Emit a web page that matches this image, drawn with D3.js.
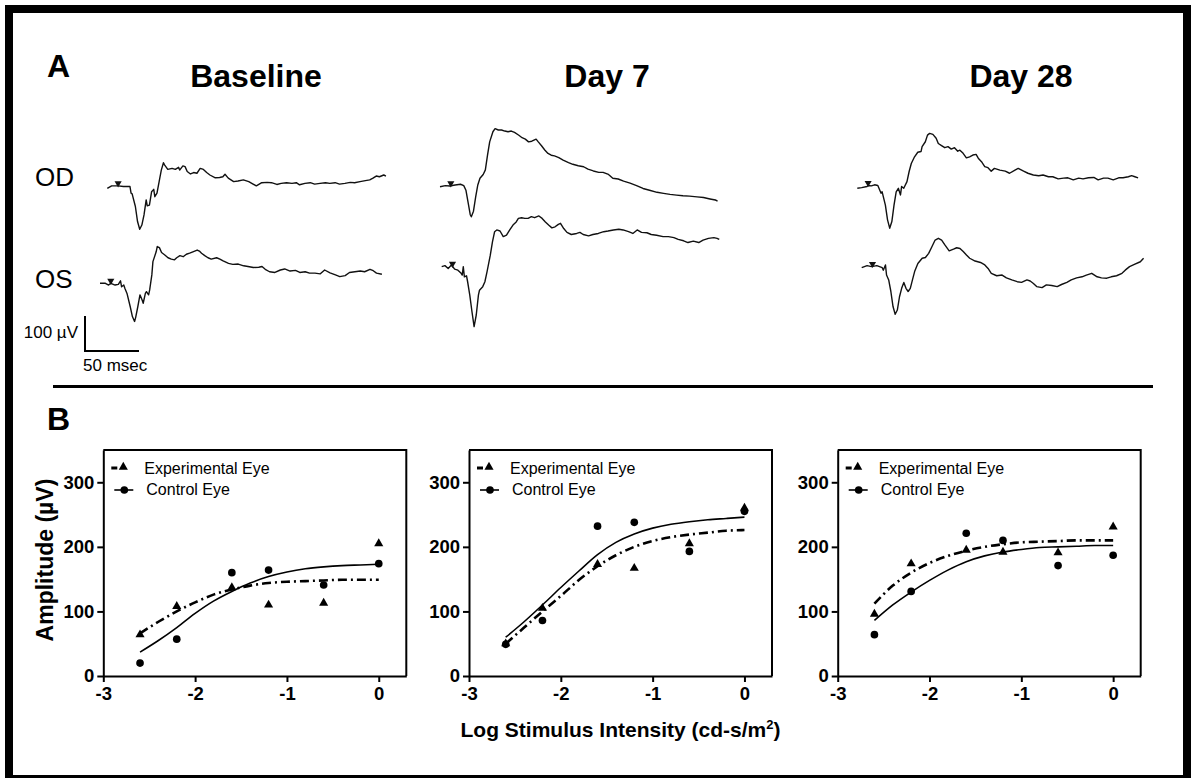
<!DOCTYPE html>
<html>
<head>
<meta charset="utf-8">
<script src="https://cdn.jsdelivr.net/npm/d3@7"></script>
<style>
  body { margin: 0; background: #fff; }
  svg { display: block; font-family: "Liberation Sans", Arial, sans-serif; }
</style>
</head>
<body>
<div id="container"></div>
<script>
const width = 1191, height = 778;

/** -------------- DATA -------------- */

const days = ["Baseline", "Day 7", "Day 28"];
const eyes = ["OD", "OS"];

// ERG traces as [msec, µV], relative to the pre-stimulus level
const baselineOD = [[0,0],[4,7],[10,7],[15,5],[21,5],[22,-14],[23,-16],[26,-52],[28,-95],[30,-117],[32,-105],[34,-76],[36,-33],[37,-50],[39,-48],[41,-10],[43,-3],[44,-24],[46,-14],[48,19],[50,52],[52,73],[53,67],[56,54],[60,57],[63,54],[66,60],[67,52],[70,64],[72,62],[74,48],[77,41],[80,45],[83,43],[86,57],[89,54],[92,45],[95,38],[100,30],[104,31],[107,33],[109,40],[112,29],[117,19],[121,21],[126,24],[131,19],[135,12],[138,7],[143,16],[148,17],[152,16],[157,11],[161,14],[166,16],[171,14],[175,16],[178,10],[183,14],[188,16],[192,12],[197,14],[202,16],[206,14],[211,16],[215,12],[220,14],[225,17],[229,16],[234,19],[239,22],[243,24],[246,29],[249,35],[252,33],[256,38],[258,35]];
const baselineOS = [[0,0],[5,0],[8,-5],[10,0],[14,-5],[17,-3],[19,7],[20,-10],[22,-5],[23,-14],[25,-29],[28,-67],[30,-95],[32,-109],[33,-98],[35,-67],[37,-33],[39,-48],[40,-57],[42,-29],[43,-24],[45,-33],[46,-19],[48,24],[49,62],[52,90],[53,105],[55,102],[57,88],[60,81],[63,73],[66,69],[69,67],[71,73],[74,79],[77,76],[80,83],[83,86],[86,90],[90,95],[92,92],[94,86],[97,79],[100,73],[103,69],[108,73],[111,69],[114,64],[119,57],[123,54],[128,55],[133,50],[137,48],[142,45],[147,46],[150,48],[153,40],[157,33],[162,31],[167,38],[171,41],[176,35],[181,37],[185,31],[190,33],[194,29],[199,29],[204,27],[208,38],[213,30],[218,24],[222,19],[227,22],[231,31],[236,33],[241,35],[245,33],[250,40],[253,36],[256,29],[261,26]];
const day7OD = [[0,0],[5,3],[9,2],[14,5],[19,7],[22,3],[24,-10],[26,-45],[28,-80],[29,-86],[31,-70],[33,-30],[35,5],[37,24],[40,35],[42,48],[44,90],[46,128],[49,157],[51,166],[54,162],[57,162],[60,159],[63,157],[66,159],[69,155],[73,147],[76,140],[79,136],[82,128],[85,130],[89,136],[91,128],[94,117],[97,105],[100,95],[103,90],[106,88],[110,83],[114,76],[119,69],[123,64],[128,60],[133,57],[137,50],[142,45],[147,41],[151,41],[156,35],[160,24],[165,22],[170,16],[176,10],[182,3],[188,-5],[194,-10],[201,-16],[207,-19],[213,-22],[219,-24],[225,-26],[231,-27],[238,-29],[244,-31],[250,-35],[255,-38],[257,-41]];
const day7OS = [[0,0],[3,3],[6,-5],[9,5],[12,-7],[15,-10],[18,-19],[19,-24],[20,0],[21,-29],[23,-26],[24,-43],[26,-81],[28,-128],[30,-171],[32,-138],[34,-81],[35,-67],[38,-57],[40,-43],[42,-14],[45,33],[47,71],[49,100],[51,105],[54,102],[57,86],[60,90],[63,105],[66,119],[69,128],[71,138],[74,140],[77,138],[80,138],[83,143],[86,140],[90,145],[93,138],[96,128],[99,119],[102,111],[105,114],[108,121],[110,124],[113,109],[116,98],[120,92],[125,95],[128,98],[131,92],[136,88],[140,92],[145,95],[150,100],[154,102],[159,105],[164,107],[168,105],[173,100],[177,95],[181,105],[185,98],[190,97],[194,92],[199,90],[205,86],[210,86],[215,83],[219,78],[224,74],[228,69],[233,73],[238,69],[242,76],[247,81],[252,83],[255,81],[257,78]];
const day28OD = [[0,0],[4,2],[9,5],[10,8],[13,7],[16,10],[19,8],[22,-14],[23,-10],[26,-48],[28,-90],[30,-114],[32,-95],[34,-48],[36,-10],[38,0],[40,-19],[41,5],[43,0],[46,19],[48,48],[50,71],[53,90],[56,103],[59,105],[60,119],[63,133],[65,152],[67,157],[70,154],[73,143],[75,128],[78,122],[81,116],[84,119],[87,112],[90,116],[93,106],[95,109],[98,100],[101,87],[104,90],[107,95],[110,97],[112,86],[115,76],[118,62],[121,59],[124,49],[127,57],[132,52],[137,49],[141,43],[146,52],[149,57],[154,49],[158,43],[163,38],[168,36],[172,38],[177,33],[181,33],[186,27],[191,29],[195,30],[200,24],[205,29],[209,27],[214,30],[219,31],[223,24],[228,29],[232,29],[237,24],[242,30],[246,30],[251,33],[254,36],[257,33],[260,30]];
const day28OS = [[0,0],[5,6],[9,3],[14,6],[19,0],[20,-7],[22,8],[23,-21],[25,-35],[27,-68],[29,-111],[31,-133],[33,-121],[35,-83],[37,-59],[39,-42],[41,-59],[43,-68],[45,-59],[47,-35],[49,-11],[52,12],[56,27],[59,29],[62,41],[65,60],[68,79],[71,84],[74,79],[77,65],[81,48],[85,53],[88,57],[91,55],[94,46],[97,36],[100,27],[105,19],[110,15],[114,8],[117,-2],[120,-16],[125,-23],[130,-21],[134,-29],[139,-35],[144,-40],[148,-42],[153,-35],[156,-38],[159,-45],[162,-54],[167,-57],[171,-49],[176,-51],[181,-54],[185,-48],[190,-42],[194,-35],[199,-29],[204,-26],[208,-21],[213,-16],[218,-26],[222,-29],[227,-30],[231,-26],[236,-23],[241,-16],[244,-7],[248,3],[253,10],[258,17],[261,27]];
const traces = [[baselineOD, baselineOS], [day7OD, day7OS], [day28OD, day28OS]];
const stimulusMs = 10;

// intensity-response, amplitude in µV
const intensities = [-2.6, -2.2, -1.6, -1.2, -0.6, 0];
const expAmp = [
  [64, 108, 137, 110, 113, 205],
  [50, 105, 173, 167, 205, 260],
  [96, 174, 195, 192, 191, 231]
];
const ctrlAmp = [
  [20, 57, 160, 164, 141, 174],
  [49, 86, 232, 238, 193, 255],
  [64, 131, 221, 210, 171, 187]
];
const fitX = [-2.6, -2.4, -2.2, -2.0, -1.8, -1.6, -1.4, -1.2, -1.0, -0.8, -0.6, -0.4, -0.2, 0];
const expFit = [
  [66, 84, 100, 114, 126, 134, 140, 144, 146, 147, 148, 149, 149, 149],
  [50, 75, 100, 124, 149, 170, 187, 200, 209, 215, 219, 222, 225, 226],
  [112, 140, 160, 175, 186, 194, 200, 204, 207, 208, 209, 210, 210, 210]
];
const ctrlFit = [
  [37, 55, 75, 97, 116, 131, 144, 154, 161, 166, 169, 171, 172, 173],
  [60, 84, 110, 137, 163, 188, 207, 220, 229, 235, 239, 242, 244, 246],
  [86, 110, 130, 148, 164, 177, 186, 192, 196, 199, 200, 201, 202, 202]
];
const xTicks = [-3, -2, -1, 0];
const yTicks = [0, 100, 200, 300];
const legendLabels = ["Experimental Eye", "Control Eye"];

/** -------------- SVG -------------- */

const svg = d3.select("#container")
  .append("svg")
  .attr("width", width)
  .attr("height", height);

svg.append("rect")
    .attr("width", width).attr("height", height).attr("fill", "#fff");

// outer frame and divider
svg.append("rect")
    .attr("x", 9).attr("y", 9)
    .attr("width", 1178).attr("height", 770)
    .attr("fill", "none").attr("stroke", "#000").attr("stroke-width", 8);

svg.append("line")
    .attr("x1", 53).attr("x2", 1153)
    .attr("y1", 386.5).attr("y2", 386.5)
    .attr("stroke", "#000").attr("stroke-width", 3);

svg.append("text").attr("x", 47).attr("y", 77)
    .attr("font-size", 32).attr("font-weight", "bold").text("A");
svg.append("text").attr("x", 47).attr("y", 430)
    .attr("font-size", 32).attr("font-weight", "bold").text("B");

/** -------------- A: TRACES -------------- */

const t = d3.scaleLinear([0, 50], [0, 54]);
const v = d3.scaleLinear([0, 100], [0, -35]);
const line = d3.line(d => t(d[0]), d => v(d[1]));

const titleX = [256, 607, 1021];
const origins = [
  [[107.3, 188.3], [100, 283.3]],
  [[440, 186.7], [441.7, 266.7]],
  [[857.3, 188.3], [861.7, 267.7]]
];

days.forEach((day, i) => {
  svg.append("text")
      .attr("x", titleX[i]).attr("y", 87)
      .attr("text-anchor", "middle")
      .attr("font-size", 32).attr("font-weight", "bold")
      .text(day);

  traces[i].forEach((tr, j) => {
    const g = svg.append("g")
        .attr("transform", `translate(${origins[i][j]})`);
    g.append("path")
        .attr("d", line(tr))
        .attr("fill", "none")
        .attr("stroke", "#111")
        .attr("stroke-width", 1.4)
        .attr("stroke-linejoin", "round");

    // stimulus marker sits on the trace
    const k = d3.bisector(d => d[0]).left(tr, stimulusMs);
    const a = tr[Math.max(0, k - 1)], b = tr[k];
    const val = b[0] === a[0] ? b[1] : a[1] + (b[1] - a[1]) * (stimulusMs - a[0]) / (b[0] - a[0]);
    g.append("path")
        .attr("d", d3.symbol(d3.symbolTriangle, 22)())
        .attr("transform", `translate(${t(stimulusMs)},${v(val) - 2.5}) rotate(180)`)
        .attr("fill", "#111");
  });
});

eyes.forEach((eye, j) => {
  svg.append("text")
      .attr("x", 35).attr("y", [186, 288][j])
      .attr("font-size", 26)
      .text(eye);
});

// scale bar
const bar = svg.append("g").attr("transform", "translate(85,351)");
bar.append("path")
    .attr("d", `M0,${v(100)}V0H${t(50)}`)
    .attr("fill", "none").attr("stroke", "#000").attr("stroke-width", 2);
bar.append("text")
    .attr("x", -7).attr("y", -13)
    .attr("text-anchor", "end")
    .attr("font-size", 17)
    .text("100 µV");
bar.append("text")
    .attr("x", -2).attr("y", 20)
    .attr("font-size", 17)
    .text("50 msec");

/** -------------- B: INTENSITY-RESPONSE -------------- */

const pw = 303, ph = 226, panelTop = 450;
const lefts = [103.3, 469, 837.7];
const x = d3.scaleLinear([-3, 0.3], [0, pw]);
const y = d3.scaleLinear([0, 350], [ph, 0]);
const fitLine = d3.line().curve(d3.curveMonotoneX)
  .x(d => x(d[0])).y(d => y(d[1]));
const dashDot = "9,4,2,4";
const tri = d3.symbol(d3.symbolTriangle, 36)();
const dot = d3.symbol(d3.symbolCircle, 46)();

lefts.forEach((left, i) => {
  const g = svg.append("g").attr("transform", `translate(${left},${panelTop})`);

  g.append("path")
      .attr("d", `M0,0H${pw}V${ph}`)
      .attr("fill", "none").attr("stroke", "#000").attr("stroke-width", 2);

  const ax = g.append("g")
      .attr("transform", `translate(0,${ph})`)
      .call(d3.axisBottom(x).tickValues(xTicks).tickFormat(d3.format("d"))
        .tickSize(6).tickSizeOuter(0).tickPadding(5));
  const ay = g.append("g")
      .call(d3.axisLeft(y).tickValues(yTicks).tickSize(6).tickSizeOuter(0).tickPadding(3));

  [ax, ay].forEach(a => {
    a.select(".domain").attr("stroke-width", 2);
    a.selectAll(".tick line").attr("stroke-width", 2);
    a.selectAll(".tick text")
        .attr("font-family", "Liberation Sans, Arial, sans-serif")
        .attr("font-size", 18.5).attr("font-weight", "bold")
        .attr("fill", "#000");
  });
  ax.selectAll(".tick text").text(d => d < 0 ? "-" + Math.abs(d) : d);

  // fitted curves
  g.append("path")
      .attr("d", fitLine(fitX.map((d, k) => [d, ctrlFit[i][k]])))
      .attr("fill", "none").attr("stroke", "#000").attr("stroke-width", 1.6);
  g.append("path")
      .attr("d", fitLine(fitX.map((d, k) => [d, expFit[i][k]])))
      .attr("fill", "none").attr("stroke", "#000").attr("stroke-width", 2.6)
      .attr("stroke-dasharray", dashDot);

  g.selectAll(".ctrl")
    .data(intensities.map((d, k) => [d, ctrlAmp[i][k]]))
    .join("path")
      .attr("class", "ctrl")
      .attr("d", dot)
      .attr("transform", d => `translate(${x(d[0])},${y(d[1])})`);
  g.selectAll(".exp")
    .data(intensities.map((d, k) => [d, expAmp[i][k]]))
    .join("path")
      .attr("class", "exp")
      .attr("d", tri)
      .attr("transform", d => `translate(${x(d[0])},${y(d[1])})`);

  // legend
  const lg = g.append("g");
  lg.append("line")
      .attr("x1", 8).attr("x2", 14).attr("y1", 18).attr("y2", 18)
      .attr("stroke", "#000").attr("stroke-width", 3);
  lg.append("path").attr("d", tri).attr("transform", "translate(20,17)");
  lg.append("line")
      .attr("x1", 11).attr("x2", 30).attr("y1", 40).attr("y2", 40)
      .attr("stroke", "#000").attr("stroke-width", 1.6);
  lg.append("path").attr("d", dot).attr("transform", "translate(21,40)");
  lg.selectAll("text")
    .data(legendLabels)
    .join("text")
      .attr("x", (d, k) => [41, 43][k])
      .attr("y", (d, k) => [23.5, 45][k])
      .attr("font-size", 16)
      .text(d => d);
});

// axis titles
svg.append("text")
    .attr("transform", "translate(53,560) rotate(-90)")
    .attr("text-anchor", "middle")
    .attr("font-size", 23).attr("font-weight", "bold")
    .text("Amplitude (µV)");

const xt = svg.append("text")
    .attr("x", 620.5).attr("y", 737)
    .attr("text-anchor", "middle")
    .attr("font-size", 21).attr("font-weight", "bold");
xt.append("tspan").text("Log Stimulus Intensity (cd-s/m");
xt.append("tspan").attr("font-size", 13).attr("dy", -8).text("2");
xt.append("tspan").attr("dy", 8).text(")");
</script>
</body>
</html>
